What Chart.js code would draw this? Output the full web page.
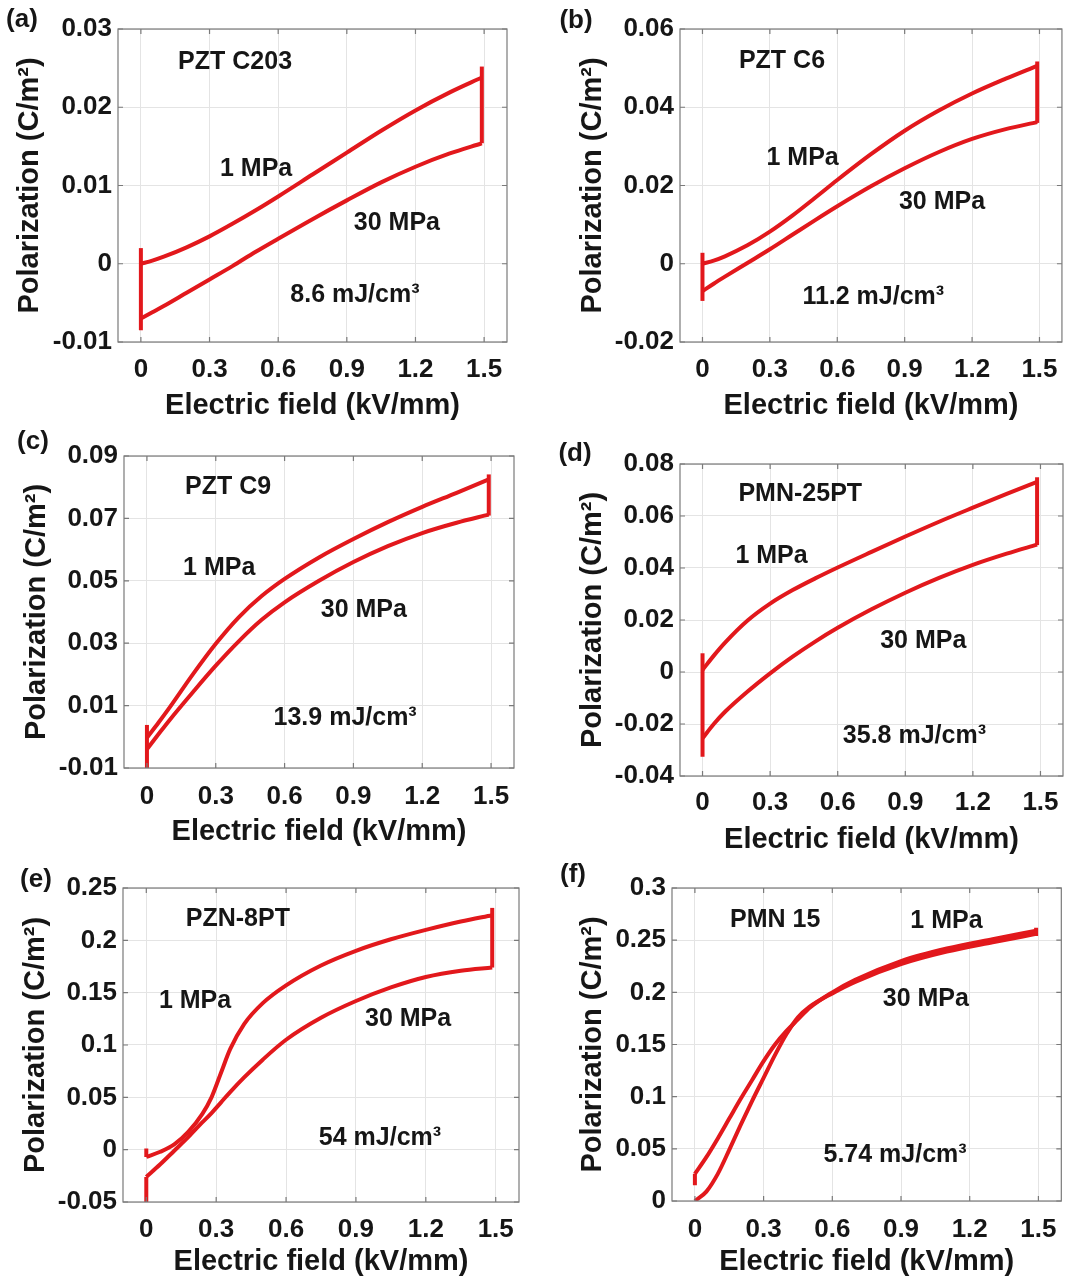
<!DOCTYPE html>
<html>
<head>
<meta charset="utf-8">
<script src="https://cdn.jsdelivr.net/npm/chart.js@4.4.1/dist/chart.umd.min.js"></script>
<style>
  html, body { margin: 0; padding: 0; background: #fff; overflow: hidden; }
  body { width: 1070px; height: 1281px; position: relative; }
  canvas { position: absolute; }
</style>
</head>
<body>
<canvas id="chart-a"></canvas>
<canvas id="chart-b"></canvas>
<canvas id="chart-c"></canvas>
<canvas id="chart-d"></canvas>
<canvas id="chart-e"></canvas>
<canvas id="chart-f"></canvas>
<script>
// ---- data ----
const fieldTicks = [0, 0.3, 0.6, 0.9, 1.2, 1.5];

// (a) PZT C203
const fieldA = [0, 0.05, 0.1, 0.2, 0.3, 0.4, 0.5, 0.6, 0.75, 0.9, 1.05, 1.2, 1.35, 1.49];
const pol1A = [0, 0.0004, 0.0009, 0.0021, 0.0035, 0.0051, 0.0068, 0.0086, 0.0114, 0.0142, 0.0170, 0.0196, 0.0219, 0.0238];
const pol30A = [-0.0070, -0.0062, -0.0054, -0.0037, -0.0020, -0.0003, 0.0015, 0.0032, 0.0057, 0.0081, 0.0104, 0.0124, 0.0141, 0.0154];
const leftA = [[-0.0085, 0.002]];
const rightA = [[0.0154, 0.0252]];
const yTicksA = [-0.01, 0, 0.01, 0.02, 0.03];

// (b) PZT C6
const fieldB = [0, 0.05, 0.1, 0.2, 0.3, 0.4, 0.5, 0.6, 0.75, 0.9, 1.05, 1.2, 1.35, 1.49];
const pol1B = [0, 0.0008, 0.0019, 0.0047, 0.0082, 0.0123, 0.0168, 0.0214, 0.0280, 0.0340, 0.0391, 0.0435, 0.0473, 0.0506];
const pol30B = [-0.0070, -0.0051, -0.0033, 0.0002, 0.0037, 0.0074, 0.0111, 0.0147, 0.0198, 0.0244, 0.0285, 0.0319, 0.0344, 0.0362];
const leftB = [[-0.0095, 0.0028]];
const rightB = [[0.0360, 0.0517]];
const yTicksB = [-0.02, 0, 0.02, 0.04, 0.06];

// (c) PZT C9
const fieldC = [0, 0.05, 0.1, 0.2, 0.3, 0.4, 0.5, 0.6, 0.75, 0.9, 1.05, 1.2, 1.35, 1.49];
const pol1C = [-0.0003, 0.0045, 0.0095, 0.0200, 0.0298, 0.0383, 0.0451, 0.0506, 0.0575, 0.0634, 0.0688, 0.0737, 0.0782, 0.0825];
const pol30C = [-0.0040, 0.0008, 0.0055, 0.0143, 0.0228, 0.0306, 0.0375, 0.0431, 0.0500, 0.0560, 0.0611, 0.0653, 0.0686, 0.0712];
const leftC = [[-0.012, 0.0038]];
const rightC = [[0.0709, 0.0841]];
const yTicksC = [-0.01, 0.01, 0.03, 0.05, 0.07, 0.09];

// (d) PMN-25PT
const fieldD = [0, 0.05, 0.1, 0.2, 0.3, 0.4, 0.5, 0.6, 0.75, 0.9, 1.05, 1.2, 1.35, 1.485];
const pol1D = [0.0008, 0.0063, 0.0113, 0.0198, 0.0263, 0.0315, 0.0360, 0.0402, 0.0462, 0.0521, 0.0578, 0.0632, 0.0685, 0.0731];
const pol30D = [-0.0255, -0.0200, -0.0153, -0.0075, -0.0005, 0.0059, 0.0117, 0.0170, 0.0241, 0.0305, 0.0362, 0.0412, 0.0455, 0.0490];
const leftD = [[-0.0326, 0.0072]];
const rightD = [[0.0488, 0.0749]];
const yTicksD = [-0.04, -0.02, 0, 0.02, 0.04, 0.06, 0.08];

// (e) PZN-8PT
const fieldE = [0, 0.06, 0.12, 0.18, 0.24, 0.28, 0.32, 0.36, 0.42, 0.5, 0.6, 0.75, 0.9, 1.05, 1.2, 1.35, 1.485];
const pol1E = [-0.007, -0.002, 0.005, 0.017, 0.034, 0.050, 0.073, 0.096, 0.120, 0.140, 0.157, 0.176, 0.190, 0.201, 0.210, 0.218, 0.224];
const pol30E = [-0.026, -0.014, -0.001, 0.012, 0.026, 0.035, 0.045, 0.055, 0.069, 0.086, 0.105, 0.126, 0.142, 0.155, 0.165, 0.171, 0.174];
const leftE = [[-0.007, 0.001], [-0.055, -0.026]];
const rightE = [[0.174, 0.231]];
const yTicksE = [-0.05, 0, 0.05, 0.1, 0.15, 0.2, 0.25];

// (f) PMN 15
const fieldF = [0, 0.05, 0.1, 0.15, 0.2, 0.25, 0.3, 0.35, 0.4, 0.45, 0.5, 0.6, 0.7, 0.9, 1.1, 1.3, 1.49];
const pol1F = [0.026, 0.042, 0.060, 0.079, 0.098, 0.116, 0.134, 0.150, 0.163, 0.174, 0.185, 0.200, 0.212, 0.230, 0.242, 0.251, 0.259];
const pol30F = [0, 0.009, 0.026, 0.049, 0.073, 0.096, 0.118, 0.140, 0.160, 0.176, 0.186, 0.199, 0.210, 0.227, 0.239, 0.248, 0.256];
const leftF = [[0.015, 0.026]];
const rightF = [[0.254, 0.262]];
const yTicksF = [0, 0.05, 0.1, 0.15, 0.2, 0.25, 0.3];

// ---- layout (page pixels) ----
const RED = 'rgb(226, 24, 28)';
const FONT = '"Liberation Sans", Arial, sans-serif';
const TEXT = '#161616';
const PAD_TOP = 40;

const panels = [
  { id: 'a', tag: '(a)', field: fieldA, pol1: pol1A, pol30: pol30A, left: leftA, right: rightA, yTicks: yTicksA,
    col: 0, box: [118, 29, 507, 342], axisH: 84, titleOff: 64, labelOff: 28, yTitleX: 30, tagAt: [22, 20],
    notes: [['PZT C203', .301, .105], ['1 MPa', .355, .447], ['30 MPa', .717, .620], ['8.6 mJ/cm³', .609, .850]] },
  { id: 'b', tag: '(b)', field: fieldB, pol1: pol1B, pol30: pol30B, left: leftB, right: rightB, yTicks: yTicksB,
    col: 535, box: [680, 29, 1069, 342], axisH: 84, titleOff: 64, labelOff: 28, yTitleX: 593, tagAt: [576, 21],
    notes: [['PZT C6', .267, .102], ['1 MPa', .321, .412], ['30 MPa', .686, .553], ['11.2 mJ/cm³', .506, .856]] },
  { id: 'c', tag: '(c)', field: fieldC, pol1: pol1C, pol30: pol30C, left: leftC, right: rightC, yTicks: yTicksC,
    col: 0, box: [124, 456, 514, 768], axisH: 84, titleOff: 64, labelOff: 29, yTitleX: 37, tagAt: [33, 442],
    notes: [['PZT C9', .267, .099], ['1 MPa', .244, .359], ['30 MPa', .615, .494], ['13.9 mJ/cm³', .567, .840]] },
  { id: 'd', tag: '(d)', field: fieldD, pol1: pol1D, pol30: pol30D, left: leftD, right: rightD, yTicks: yTicksD,
    col: 535, box: [680, 464, 1069, 776], axisH: 84, titleOff: 64, labelOff: 27, yTitleX: 593, tagAt: [575, 454],
    notes: [['PMN-25PT', .314, .096], ['1 MPa', .239, .295], ['30 MPa', .635, .567], ['35.8 mJ/cm³', .612, .872]] },
  { id: 'e', tag: '(e)', field: fieldE, pol1: pol1E, pol30: pol30E, left: leftE, right: rightE, yTicks: yTicksE,
    col: 0, box: [123, 888, 519, 1202], axisH: 79, titleOff: 60, labelOff: 28, yTitleX: 36, tagAt: [36, 880],
    notes: [['PZN-8PT', .290, .099], ['1 MPa', .182, .360], ['30 MPa', .720, .417], ['54 mJ/cm³', .649, .796]] },
  { id: 'f', tag: '(f)', field: fieldF, pol1: pol1F, pol30: pol30F, left: leftF, right: rightF, yTicks: yTicksF,
    col: 535, box: [672, 888, 1068, 1201], axisH: 80, titleOff: 61, labelOff: 29, yTitleX: 593, tagAt: [573, 875],
    notes: [['PMN 15', .265, .102], ['1 MPa', .705, .105], ['30 MPa', .652, .355], ['5.74 mJ/cm³', .573, .853]] }
];

function curve(field, pol) {
  return field.map((x, i) => ({ x, y: pol[i] }));
}

function edges(spans, x) {
  const pts = [];
  spans.forEach(([lo, hi]) => { pts.push({ x, y: lo }, { x, y: hi }, { x, y: null }); });
  return pts;
}

// box, inward ticks, labels
const framePlugin = {
  id: 'frame',
  afterDatasetsDraw(chart, args, opts) {
    const { ctx, chartArea: a, scales: { x, y } } = chart;
    ctx.save();
    ctx.strokeStyle = '#7a7a7a';
    ctx.lineWidth = 1.2;
    ctx.strokeRect(a.left, a.top, a.right - a.left, a.bottom - a.top);
    ctx.beginPath();
    x.ticks.forEach(t => {
      const px = x.getPixelForValue(t.value);
      ctx.moveTo(px, a.bottom); ctx.lineTo(px, a.bottom - 5);
      ctx.moveTo(px, a.top); ctx.lineTo(px, a.top + 5);
    });
    y.ticks.forEach(t => {
      const py = y.getPixelForValue(t.value);
      ctx.moveTo(a.left, py); ctx.lineTo(a.left + 5, py);
      ctx.moveTo(a.right, py); ctx.lineTo(a.right - 5, py);
    });
    ctx.stroke();

    ctx.fillStyle = TEXT;
    ctx.textAlign = 'center';
    ctx.textBaseline = 'middle';
    ctx.font = 'bold 25px ' + FONT;
    opts.notes.forEach(([txt, fx, fy]) => {
      ctx.fillText(txt, a.left + fx * (a.right - a.left), a.top + fy * (a.bottom - a.top));
    });
    ctx.font = 'bold 26px ' + FONT;
    ctx.fillText(opts.tag, opts.tagX, opts.tagY);
    ctx.restore();
  }
};

panels.forEach(p => {
  const [bl, bt, br, bb] = p.box;
  const top = bt - PAD_TOP;
  const width = 535;
  const height = bb + p.axisH - top;
  const canvas = document.getElementById('chart-' + p.id);
  canvas.width = width;
  canvas.height = height;
  canvas.style.left = p.col + 'px';
  canvas.style.top = top + 'px';
  canvas.style.width = width + 'px';
  canvas.style.height = height + 'px';

  const yAxisW = bl - p.col;
  const titleFont = { family: FONT, size: 29, weight: 'bold', lineHeight: 1.2 };
  const tickFont = { family: FONT, size: 26, weight: 'bold', lineHeight: 1.2 };
  const line = { showLine: true, borderColor: RED, borderWidth: 4, pointRadius: 0, fill: false };

  new Chart(canvas, {
    type: 'scatter',
    data: {
      datasets: [
        { ...line, label: '1 MPa', data: curve(p.field, p.pol1), cubicInterpolationMode: 'monotone' },
        { ...line, label: '30 MPa', data: curve(p.field, p.pol30), cubicInterpolationMode: 'monotone' },
        { ...line, label: 'edge0', data: edges(p.left, 0), tension: 0, spanGaps: false },
        { ...line, label: 'edgeE', data: edges(p.right, p.field[p.field.length - 1]), tension: 0, spanGaps: false }
      ]
    },
    options: {
      responsive: false,
      animation: false,
      events: [],
      layout: { padding: { left: 0, top: PAD_TOP, right: p.col + width - br, bottom: 0 } },
      plugins: {
        legend: { display: false },
        tooltip: { enabled: false },
        frame: { notes: p.notes, tag: p.tag, tagX: p.tagAt[0] - p.col, tagY: p.tagAt[1] - top }
      },
      scales: {
        x: {
          type: 'linear',
          min: -0.1,
          max: 1.6,
          afterBuildTicks: s => { s.ticks = fieldTicks.map(v => ({ value: v })); },
          afterFit: s => { s.height = p.axisH; },
          ticks: { font: tickFont, color: TEXT, padding: p.labelOff - 15.6, maxRotation: 0, callback: v => String(v) },
          grid: { color: '#e4e4e4', lineWidth: 1, drawTicks: false },
          border: { display: false },
          title: { display: true, text: 'Electric field (kV/mm)', font: titleFont, color: TEXT,
                   padding: { top: 0, bottom: p.axisH - p.titleOff - 17.4 } }
        },
        y: {
          type: 'linear',
          min: p.yTicks[0],
          max: p.yTicks[p.yTicks.length - 1],
          afterBuildTicks: s => { s.ticks = p.yTicks.map(v => ({ value: v })); },
          afterFit: s => { s.width = yAxisW; },
          ticks: { font: tickFont, color: TEXT, padding: 6, callback: v => String(v) },
          grid: { color: '#e4e4e4', lineWidth: 1, drawTicks: false },
          border: { display: false },
          title: { display: true, text: 'Polarization (C/m²)', font: titleFont, color: TEXT,
                   padding: { top: p.yTitleX - p.col - 17.4, bottom: 0 } }
        }
      }
    },
    plugins: [framePlugin]
  });
});
</script>
</body>
</html>
